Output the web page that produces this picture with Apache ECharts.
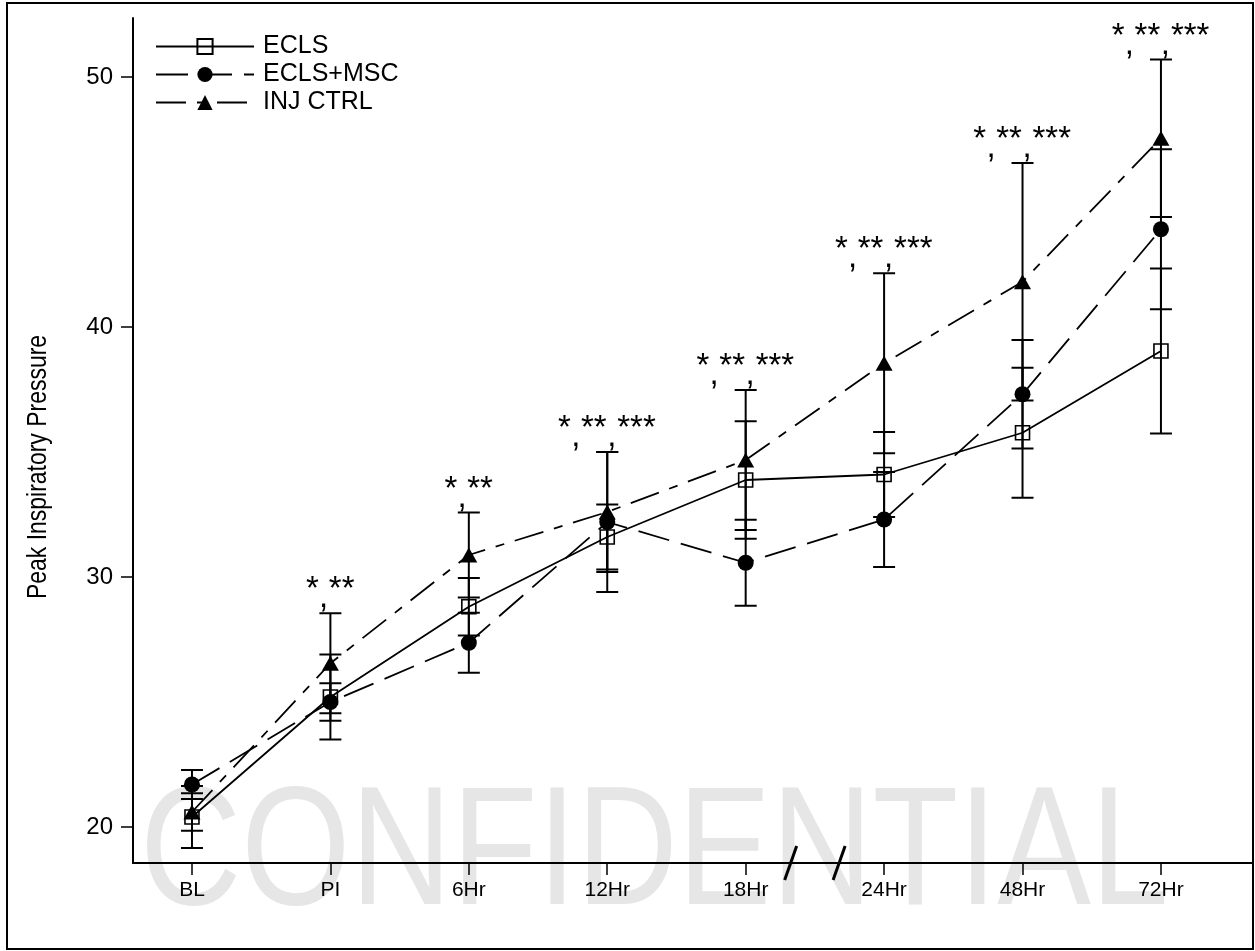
<!DOCTYPE html>
<html>
<head>
<meta charset="utf-8">
<script src="https://cdn.jsdelivr.net/npm/echarts@6/dist/echarts.min.js"></script>
<style>
  html, body { margin: 0; padding: 0; background: #fff; }
  #chart { width: 1255px; height: 951px; }
</style>
</head>
<body>
<div id="chart"></div>
<script>
// Time points on the x axis
const timepoints = ['BL', 'PI', '6Hr', '12Hr', '18Hr', '24Hr', '48Hr', '72Hr'];

// Group means and standard deviations of peak inspiratory pressure
const eclsMean = [20.4, 25.2, 28.81, 31.6, 33.88, 34.1, 35.77, 39.04];
const eclsSD   = [1.24, 1.7, 1.15, 1.3, 2.35, 1.7, 2.6, 3.3];
const mscMean  = [21.7, 25.0, 27.37, 32.2, 30.57, 32.3, 37.31, 43.91];
const mscSD    = [0.58, 0.75, 1.2, 2.8, 1.72, 1.9, 2.17, 3.2];
const injMean  = [20.6, 26.55, 30.88, 32.6, 34.68, 38.55, 41.81, 47.55];
const injSD    = [0.75, 2.0, 1.7, 2.4, 2.8, 3.6, 4.75, 3.15];

// Significance marks above each time point
const sigLabels = ['', '*,**', '*,**', '*,**,***', '*,**,***', '*,**,***', '*,**,***', '*,**,***'];

// Axis tick values
const yTicks = [20, 30, 40, 50];
const xTicks = timepoints.map((_, i) => i);

const FONT = '"Liberation Sans", Arial, sans-serif';

const chart = echarts.init(document.getElementById('chart'), null, { renderer: 'canvas' });

function lineData(means) {
  return means.map((v, i) => [i, v]);
}

function errorBarSeries(name, means, sds) {
  return {
    type: 'custom',
    name: name + ' SD',
    z: 5,
    silent: true,
    data: means.map((v, i) => [i, v - sds[i], v + sds[i]]),
    encode: { x: 0, y: [1, 2] },
    renderItem: function (params, api) {
      const lo = api.coord([api.value(0), api.value(1)]);
      const hi = api.coord([api.value(0), api.value(2)]);
      const half = 11;
      const st = { stroke: '#000', lineWidth: 2 };
      return {
        type: 'group',
        children: [
          { type: 'line', shape: { x1: lo[0], y1: lo[1], x2: hi[0], y2: hi[1] }, style: st },
          { type: 'line', shape: { x1: lo[0] - half, y1: lo[1], x2: lo[0] + half, y2: lo[1] }, style: st },
          { type: 'line', shape: { x1: hi[0] - half, y1: hi[1], x2: hi[0] + half, y2: hi[1] }, style: st }
        ]
      };
    }
  };
}

// highest error-bar end at each time point, used to place the significance marks
const topEnds = timepoints.map((_, i) => Math.max(
  eclsMean[i] + eclsSD[i], mscMean[i] + mscSD[i], injMean[i] + injSD[i]));

// Lay out a mark such as "*,**,***": asterisk groups raised, commas low
function sigElements(label, cx, cy) {
  const starW = 13.5, commaW = 9;
  const parts = label.split(',');
  const tokens = [];
  parts.forEach((p, k) => {
    if (k > 0) tokens.push({ t: ',', w: commaW, comma: true });
    tokens.push({ t: p, w: p.length * starW, comma: false });
  });
  const total = tokens.reduce((s, tk) => s + tk.w, 0);
  let x = cx - total / 2;
  return tokens.map(tk => {
    const c = x + tk.w / 2;
    x += tk.w;
    return {
      type: 'text',
      x: c,
      y: tk.comma ? cy - 15 : cy - 23,
      style: {
        text: tk.t,
        font: '33px ' + FONT,
        fill: '#000',
        align: 'center',
        verticalAlign: 'middle'
      }
    };
  });
}

const option = {
  animation: false,
  backgroundColor: '#fff',
  grid: { left: 133, right: 2, top: 18, bottom: 88, containLabel: false, outerBoundsMode: 'none' },
  legend: {
    orient: 'vertical',
    left: 150,
    top: 29,
    itemWidth: 98,
    itemHeight: 19,
    itemGap: 3,
    textStyle: { fontSize: 25, lineHeight: 23, color: '#000', fontFamily: FONT, padding: [0, 0, 0, 4] },
    data: ['ECLS', 'ECLS+MSC', 'INJ CTRL']
  },
  xAxis: {
    type: 'value',
    min: -0.426,
    max: 7.665,
    splitLine: { show: false },
    axisLine: { show: true, onZero: false, lineStyle: { color: '#000', width: 2 } },
    axisTick: { show: true, customValues: xTicks, length: 12, lineStyle: { color: '#000', width: 1.5 } },
    axisLabel: {
      show: true,
      customValues: xTicks,
      margin: 17,
      fontSize: 21,
      color: '#000',
      fontFamily: FONT,
      formatter: v => timepoints[Math.round(v)] || ''
    }
  },
  yAxis: {
    type: 'value',
    min: 18.56,
    max: 52.36,
    splitLine: { show: false },
    axisLine: { show: true, onZero: false, lineStyle: { color: '#000', width: 2 } },
    axisTick: { show: true, customValues: yTicks, length: 12, lineStyle: { color: '#000', width: 1.5 } },
    axisLabel: {
      show: true,
      customValues: yTicks,
      margin: 20,
      fontSize: 24,
      color: '#000',
      fontFamily: FONT
    }
  },
  series: [
    {
      name: 'ECLS',
      type: 'line',
      z: 4,
      data: lineData(eclsMean),
      symbol: 'rect',
      symbolSize: 14,
      itemStyle: { color: 'rgba(255,255,255,0)', borderColor: '#000', borderWidth: 1.6 },
      lineStyle: { color: '#000', width: 1.8, type: 'solid' }
    },
    {
      name: 'ECLS+MSC',
      type: 'line',
      z: 4,
      data: lineData(mscMean),
      symbol: 'circle',
      symbolSize: 16,
      itemStyle: { color: '#000', borderColor: '#000', borderWidth: 0 },
      lineStyle: { color: '#000', width: 1.8, type: [32, 12] }
    },
    {
      name: 'INJ CTRL',
      type: 'line',
      z: 4,
      data: lineData(injMean),
      symbol: 'triangle',
      symbolSize: [17, 15],
      itemStyle: { color: '#000', borderColor: '#000', borderWidth: 0 },
      lineStyle: { color: '#000', width: 1.8, type: [30, 11, 9, 11] }
    },
    errorBarSeries('ECLS', eclsMean, eclsSD),
    errorBarSeries('ECLS+MSC', mscMean, mscSD),
    errorBarSeries('INJ CTRL', injMean, injSD),
    {
      type: 'custom',
      name: 'significance',
      silent: true,
      z: 6,
      data: topEnds.map((v, i) => [i, v]),
      renderItem: function (params, api) {
        const label = sigLabels[params.dataIndex];
        if (!label) return null;
        const p = api.coord([api.value(0), api.value(1)]);
        return { type: 'group', children: sigElements(label, p[0], p[1]) };
      }
    }
  ]
};

chart.setOption(option);

// Axis break marks between 18Hr and 24Hr, watermark, axis title and frame
function drawDecorations() {
  const y0 = chart.convertToPixel({ gridIndex: 0 }, [0, 18.56])[1];
  const breaks = [4.5 - 0.175, 4.5 + 0.175].map(v => chart.convertToPixel({ gridIndex: 0 }, [v, 18.56])[0]);
  const slash = breaks.map(x => ({
    type: 'line',
    shape: { x1: x - 6, y1: y0 + 17, x2: x + 6, y2: y0 - 17 },
    style: { stroke: '#000', lineWidth: 3 },
    z: 10
  }));
  chart.setOption({
    graphic: [
      {
        type: 'text',
        x: 140,
        y: 774,
        scaleX: 0.835,
        z: -1,
        silent: true,
        style: { text: 'CONFIDENTIAL', font: '168px ' + FONT, fill: '#e6e6e6', verticalAlign: 'top' }
      },
      {
        type: 'text',
        x: 38,
        y: 467,
        rotation: Math.PI / 2,
        scaleX: 0.82,
        silent: true,
        style: {
          text: 'Peak Inspiratory Pressure',
          font: '28px ' + FONT,
          fill: '#000',
          align: 'center',
          verticalAlign: 'middle'
        }
      },
      ...slash,
      {
        type: 'rect',
        shape: { x: 7, y: 3, width: 1246, height: 946 },
        style: { fill: null, stroke: '#000', lineWidth: 2 },
        silent: true,
        z: 20
      }
    ]
  });
}
drawDecorations();
</script>
</body>
</html>
